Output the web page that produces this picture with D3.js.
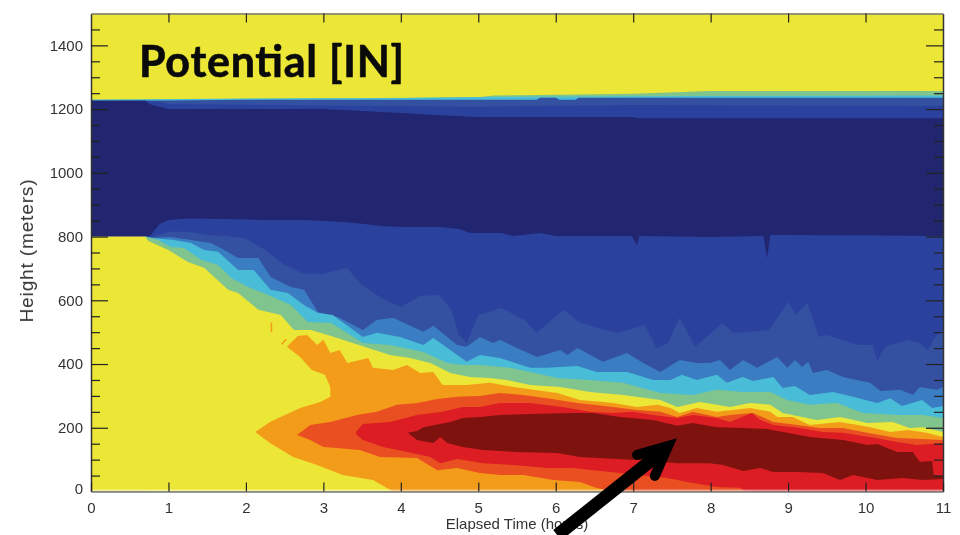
<!DOCTYPE html>
<html>
<head>
<meta charset="utf-8">
<script src="https://cdn.jsdelivr.net/npm/d3@7"></script>
<style>
  html, body { margin: 0; padding: 0; background: #fff; overflow: hidden; }
  svg { display: block; }
  .soft { filter: blur(0.6px); }
  .tick text { font-family: "Liberation Sans", sans-serif; font-size: 15px; fill: #333; }
</style>
</head>
<body>
<div id="map"></div>
<script>
// all boundaries are [hours, meters]
const hourTicks = [0, 1, 2, 3, 4, 5, 6, 7, 8, 9, 10, 11];
const heightTicks = [0, 200, 400, 600, 800, 1000, 1200, 1400];
const minorTicks = [50, 100, 150, 250, 300, 350, 450, 500, 550, 650, 700, 750, 850, 900, 950, 1050, 1100, 1150, 1250, 1300, 1350, 1450];

// top interface, around 1230 m
const upperGreen = [[0,1230],[1,1230],[3,1234],[5,1237],[5.2,1243],[7,1248],[8,1257],[11,1257]];
const upperCyan = [[0,1229],[2,1233],[4,1235],[5,1238],[7,1240],[8,1241],[11,1243]];
const upperMid = [[0,1226],[1,1227],[2,1229],[5,1229],[5.75,1229],[5.8,1236],[6,1236],[6.05,1229],[6.25,1229],[6.3,1236],[11,1236]];
const upperBlue = [[0,1226],[0.7,1226],[0.9,1222],[1,1216],[5,1207],[7,1213],[11,1210]];
const upperNavy = [[0,1226],[0.7,1226],[0.75,1216],[1,1200],[3,1200],[3.5,1194],[4,1188],[4.5,1181],[5,1175],[7,1175],[7.05,1171],[11,1171]];

// lower plume, each one painted down to the ground
const blueTop = [[0,800],[0.7,800],[0.76,802],[0.89,840],[1,852],[1.25,857],[1.75,855],[2.25,852],[2.75,852],[3,849],[3.25,846],[3.5,840],[3.75,833],[4,830],[4.5,830],[4.75,824],[4.9,811],[5.15,811],[5.3,811],[5.45,802],[5.8,811],[6,802],[6.98,802],[7.05,772],[7.08,802],[8,799],[8.68,802],[8.73,733],[8.77,805],[9,805],[11,802]];
const midTop = [[0.7,800],[0.75,796],[1,815],[1.25,815],[1.5,805],[1.75,802],[2,793],[2.25,758],[2.5,711],[2.75,683],[3,683],[3.3,702],[3.5,648],[3.75,607],[4,579],[4.25,614],[4.5,617],[4.65,570],[4.75,491],[4.85,466],[5,554],[5.3,576],[5.6,538],[5.75,497],[6.1,570],[6.3,532],[6.55,513],[6.8,497],[7.15,523],[7.3,450],[7.45,466],[7.6,545],[7.8,454],[8.05,507],[8.15,529],[8.3,497],[8.75,507],[9,595],[9.1,554],[9.25,592],[9.4,485],[9.5,491],[9.9,460],[10.1,460],[10.15,407],[10.25,454],[10.55,476],[10.7,466],[10.8,444],[10.9,485],[11,507]];
const lightTop = [[0.7,800],[0.81,796],[1.03,799],[1.29,789],[1.55,780],[1.72,758],[1.9,733],[2.16,733],[2.32,673],[2.58,642],[2.75,633],[2.93,563],[3.18,548],[3.51,507],[3.69,538],[3.9,545],[4.29,501],[4.42,520],[4.73,460],[4.85,454],[5.02,485],[5.19,466],[5.28,476],[5.5,450],[5.76,422],[6.06,444],[6.15,428],[6.28,450],[6.61,407],[6.92,435],[7.13,403],[7.35,375],[7.6,413],[7.82,403],[7.99,403],[8.12,413],[8.25,381],[8.42,413],[8.6,388],[8.86,422],[8.99,388],[9.09,413],[9.18,391],[9.26,407],[9.32,372],[9.5,381],[9.71,359],[10.06,341],[10.19,315],[10.45,319],[10.61,303],[10.7,328],[10.92,319],[11,328]];
const cyanTop = [[0.7,800],[0.77,796],[1.07,789],[1.29,780],[1.46,758],[1.64,752],[1.9,695],[2.1,695],[2.32,633],[2.54,623],[2.75,585],[2.93,560],[3.12,554],[3.51,485],[3.69,498],[3.99,485],[4.29,460],[4.42,482],[4.73,428],[4.85,407],[5.02,428],[5.28,419],[5.67,388],[5.89,388],[6.28,394],[6.53,375],[6.92,375],[7.26,350],[7.48,350],[7.63,366],[7.82,350],[8.08,366],[8.21,341],[8.41,359],[8.55,347],[8.81,359],[8.93,325],[9.09,331],[9.28,303],[9.58,312],[9.84,297],[10.15,278],[10.32,293],[10.47,268],[10.73,287],[10.86,262],[11,268]];
const greenTop = [[0.7,800],[0.87,789],[1.03,767],[1.2,764],[1.42,727],[1.64,711],[1.81,670],[2.03,642],[2.29,617],[2.58,585],[2.8,532],[3.1,529],[3.51,466],[3.86,460],[4.29,438],[4.6,403],[4.8,397],[5.02,397],[5.41,388],[5.67,375],[6.02,356],[6.44,350],[6.87,341],[7.35,309],[7.77,303],[8.08,319],[8.42,312],[8.77,312],[8.99,287],[9.28,272],[9.63,278],[9.97,246],[10.41,240],[10.74,240],[11,231]];
const yellowTop = [[0,800],[0.7,800],[0.74,786],[1,758],[1.25,720],[1.46,702],[1.77,633],[1.9,623],[2.16,570],[2.45,554],[2.62,507],[2.84,507],[3.1,488],[3.34,469],[3.86,428],[4.12,419],[4.38,403],[4.64,372],[4.89,359],[5.15,356],[5.37,350],[5.67,334],[6.06,328],[6.44,312],[6.87,303],[7.35,287],[7.57,265],[7.86,281],[8.08,272],[8.25,265],[8.51,278],[8.77,272],[8.93,246],[9.37,224],[9.67,234],[10.02,215],[10.35,218],[10.57,199],[10.74,202],[11,187]];

// warm core, closed outlines
const orangeCore = [[2.12,187],[2.31,218],[2.7,262],[2.96,281],[3.09,297],[3.09,328],[3.02,366],[2.85,381],[2.7,422],[2.53,454],[2.67,488],[2.79,491],[2.92,460],[3,476],[3.09,435],[3.21,444],[3.31,403],[3.58,419],[3.64,388],[3.9,381],[4.08,397],[4.25,372],[4.42,375],[4.54,334],[4.85,334],[5.15,341],[5.45,328],[6.02,309],[6.31,287],[6.74,278],[7.05,265],[7.31,272],[7.48,262],[7.6,246],[7.82,262],[8.08,250],[8.51,262],[8.77,250],[8.86,234],[9.06,234],[9.28,209],[9.67,218],[10.06,202],[10.32,187],[10.54,193],[10.79,184],[11,171],[11,0],[3.9,0],[3.64,36],[3.25,52],[2.92,83],[2.61,108],[2.31,152]];
const scarletCore = [[2.66,177],[2.83,209],[3.09,218],[3.43,240],[3.69,250],[3.95,272],[4.21,278],[4.47,290],[4.73,297],[5.02,300],[5.28,309],[5.58,303],[5.89,293],[6.28,278],[6.74,265],[7.05,256],[7.35,250],[7.57,234],[7.77,250],[8.08,234],[8.25,240],[8.55,246],[8.81,218],[9.12,209],[9.41,199],[9.71,199],[10.02,184],[10.41,168],[10.74,165],[11,162],[11,0],[6.74,0],[6.53,11],[6.31,30],[5.97,36],[5.58,52],[5.28,52],[5.02,58],[4.73,74],[4.47,67],[4.21,105],[3.73,108],[3.47,130],[3,140],[2.83,162]];
const redCore = [[3.42,187],[3.51,212],[3.86,218],[4.21,240],[4.54,250],[4.8,265],[5.02,265],[5.28,278],[5.67,278],[6.09,265],[6.44,250],[6.74,246],[7,250],[7.26,240],[7.57,231],[7.77,240],[8.08,231],[8.25,218],[8.53,246],[8.64,224],[8.81,209],[9.15,199],[9.45,187],[9.71,184],[10.06,171],[10.41,155],[10.66,146],[11,152],[11,0],[8.45,0],[8.38,12],[8.08,14],[7.77,27],[7.44,42],[6.83,58],[6.48,67],[6.22,74],[5.89,74],[5.45,83],[5.06,89],[4.73,102],[4.51,89],[4.38,108],[4.08,124],[3.77,140],[3.51,162],[3.43,177]];
const darkCore = [[4.09,184],[4.21,190],[4.29,202],[4.64,218],[4.8,231],[5.02,234],[5.28,240],[5.67,243],[6.22,246],[6.48,246],[6.83,234],[7.26,224],[7.57,206],[7.77,215],[8.08,202],[8.42,199],[8.73,196],[8.99,184],[9.28,171],[9.71,162],[10.02,146],[10.15,149],[10.41,124],[10.61,124],[10.7,93],[10.86,96],[10.88,52],[11,46],[11,39],[10.74,36],[10.48,42],[10.15,36],[9.84,52],[9.67,36],[9.45,58],[9.12,61],[8.81,61],[8.64,74],[8.42,64],[8.16,83],[7.99,89],[7.57,89],[7.05,99],[6.31,108],[6.02,121],[5.5,124],[5.06,130],[4.8,140],[4.6,152],[4.51,171],[4.42,152],[4.21,162]];
const speck1 = [[2.33,500],[2.33,530]];
const speck2 = [[2.46,462],[2.52,478]];

// annotation arrow
const arrowShaft = [[6.02,-137],[7.4,130]];
const arrowHead = [[7.05,115],[7.45,143],[7.28,49]];

const width = 960, height = 535;
const x = d3.scaleLinear().domain([0, 11]).range([91, 943]);
const y = d3.scaleLinear().domain([0, 1500]).range([491.5, 13.5]);

const colors = {
  yellow: "#ece636", navy: "#22256f", blue: "#2a429d", mid: "#3450a0", light: "#3a7dc2",
  cyan: "#49bcd8", green: "#80c48e", orange: "#f39c19", scarlet: "#ea4f21", red: "#dc1e24", dark: "#7e120f"
};

const svg = d3.select("#map").append("svg")
  .attr("width", width)
  .attr("height", height);

const chart = svg.append("g").attr("class", "soft");

const toGround = d3.area().x(d => x(d[0])).y0(y(0)).y1(d => y(d[1]));
const outline = d3.line().x(d => x(d[0])).y(d => y(d[1]));

chart.append("rect")
  .attr("x", x(0)).attr("y", y(1500))
  .attr("width", x(11) - x(0)).attr("height", y(0) - y(1500))
  .attr("fill", colors.yellow);

const layers = [
  [upperGreen, colors.green], [upperCyan, colors.cyan], [upperMid, colors.mid], [upperBlue, colors.blue],
  [upperNavy, colors.navy], [blueTop, colors.blue], [midTop, colors.mid], [lightTop, colors.light],
  [cyanTop, colors.cyan], [greenTop, colors.green], [yellowTop, colors.yellow]
];
layers.forEach(function(l) {
  chart.append("path").attr("d", toGround(l[0])).attr("fill", l[1]);
});

const cores = [[orangeCore, colors.orange], [scarletCore, colors.scarlet], [redCore, colors.red], [darkCore, colors.dark]];
cores.forEach(function(c) {
  chart.append("path").attr("d", outline(c[0]) + "Z").attr("fill", c[1]);
});

[speck1, speck2].forEach(function(s) {
  chart.append("path").attr("d", outline(s)).attr("fill", "none").attr("stroke", colors.orange).attr("stroke-width", 1.5);
});

// pale strip along the ground
chart.append("rect")
  .attr("x", x(0)).attr("y", y(6))
  .attr("width", x(11) - x(0)).attr("height", y(0) - y(6))
  .attr("fill", "#fff").attr("opacity", 0.5);

// axes, ticks point inward on all four sides
function styleAxis(g, stroke, domainWidth) {
  g.selectAll(".domain").attr("stroke", stroke).attr("stroke-width", domainWidth);
  g.selectAll(".tick line").attr("stroke", "#222").attr("stroke-width", 1.2);
}

const leftAxis = chart.append("g").attr("transform", "translate(" + x(0) + ",0)")
  .call(d3.axisLeft(y).tickValues(heightTicks).tickSize(-17).tickSizeOuter(0).tickPadding(8).tickFormat(d3.format("d")));
styleAxis(leftAxis, "#333", 1.5);
// the zero label sits a bit above the floor and has no tick of its own
leftAxis.selectAll(".tick").filter(d => d === 0).select("line").remove();
leftAxis.selectAll(".tick").filter(d => d === 0).select("text").attr("y", -3);
const leftMinor = chart.append("g").attr("transform", "translate(" + x(0) + ",0)")
  .call(d3.axisLeft(y).tickValues(minorTicks).tickSize(-9).tickSizeOuter(0).tickFormat(""));
styleAxis(leftMinor, "none", 0);

const rightAxis = chart.append("g").attr("transform", "translate(" + x(11) + ",0)")
  .call(d3.axisRight(y).tickValues(heightTicks.slice(1)).tickSize(-17).tickSizeOuter(0).tickFormat(""));
styleAxis(rightAxis, "#333", 1.5);
const rightMinor = chart.append("g").attr("transform", "translate(" + x(11) + ",0)")
  .call(d3.axisRight(y).tickValues(minorTicks).tickSize(-9).tickSizeOuter(0).tickFormat(""));
styleAxis(rightMinor, "none", 0);

const topAxis = chart.append("g").attr("transform", "translate(0," + y(1500) + ")")
  .call(d3.axisTop(x).tickValues(hourTicks.slice(1, -1)).tickSize(-9).tickSizeOuter(0).tickFormat(""));
styleAxis(topAxis, "#777", 1.5);

const bottomAxis = chart.append("g").attr("transform", "translate(0," + y(0) + ")")
  .call(d3.axisBottom(x).tickValues(hourTicks).tickSize(-9).tickSizeOuter(0).tickPadding(11).tickFormat(d3.format("d")));
styleAxis(bottomAxis, "#777", 1.5);

chart.append("text")
  .attr("transform", "translate(33," + y(755) + ") rotate(-90)")
  .attr("text-anchor", "middle")
  .attr("font-family", "Liberation Sans, sans-serif")
  .attr("font-size", 19)
  .attr("textLength", 143)
  .attr("fill", "#333")
  .text("Height (meters)");

chart.append("text")
  .attr("x", 517).attr("y", 529)
  .attr("text-anchor", "middle")
  .attr("font-family", "Liberation Sans, sans-serif")
  .attr("font-size", 15)
  .attr("fill", "#333")
  .text("Elapsed Time (hours)");

chart.append("text")
  .attr("x", x(0.62)).attr("y", y(1300))
  .attr("font-family", "Lato, sans-serif")
  .attr("font-weight", 700)
  .attr("font-size", 43)
  .attr("textLength", 265)
  .attr("fill", "#0a0a0a")
  .attr("stroke", "#0a0a0a")
  .attr("stroke-width", 0.6)
  .text("Potential [IN]");

chart.append("path").attr("d", outline(arrowShaft))
  .attr("fill", "none").attr("stroke", "#000").attr("stroke-width", 13);
chart.append("path").attr("d", outline(arrowHead))
  .attr("fill", "none").attr("stroke", "#000").attr("stroke-width", 10)
  .attr("stroke-linecap", "round").attr("stroke-linejoin", "miter");
</script>
</body>
</html>
